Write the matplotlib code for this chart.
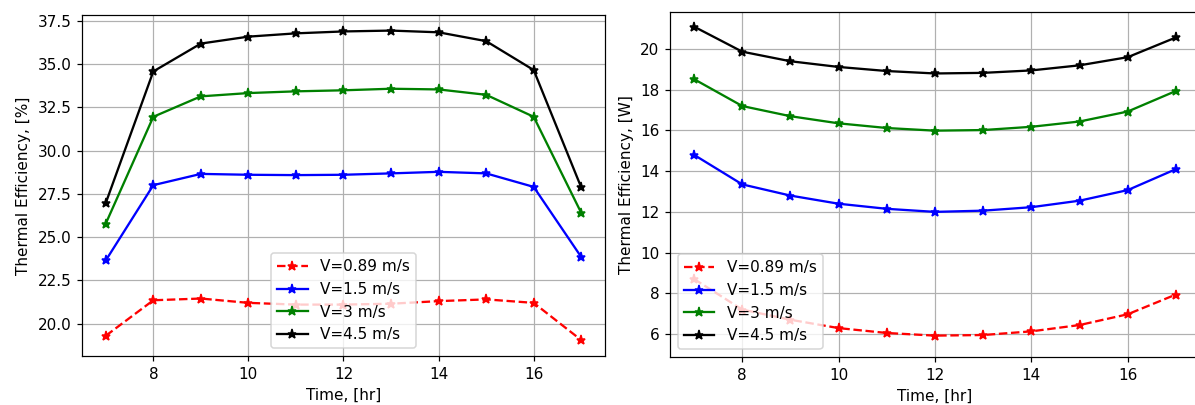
import matplotlib

matplotlib.use("Agg")
import matplotlib.pyplot as plt

# === Data ===
hours = [7, 8, 9, 10, 11, 12, 13, 14, 15, 16, 17]
labels = ["V=0.89 m/s", "V=1.5 m/s", "V=3 m/s", "V=4.5 m/s"]

# left panel: thermal efficiency [%]
eff_089 = [19.3, 21.35, 21.45, 21.2, 21.1, 21.1, 21.15, 21.3, 21.4, 21.2, 19.05]
eff_15 = [23.65, 28.0, 28.65, 28.6, 28.58, 28.6, 28.68, 28.77, 28.68, 27.9, 23.85]
eff_3 = [25.78, 31.95, 33.13, 33.32, 33.42, 33.48, 33.57, 33.53, 33.22, 31.95, 26.4]
eff_45 = [26.97, 34.57, 36.18, 36.58, 36.77, 36.88, 36.93, 36.83, 36.32, 34.65, 27.87]

# right panel: [W]
w_089 = [8.7, 7.2, 6.7, 6.29, 6.05, 5.92, 5.95, 6.13, 6.44, 6.97, 7.94]
w_15 = [14.8, 13.35, 12.8, 12.4, 12.15, 12.0, 12.06, 12.23, 12.55, 13.07, 14.1]
w_3 = [18.52, 17.2, 16.7, 16.35, 16.12, 15.99, 16.02, 16.18, 16.44, 16.93, 17.94]
w_45 = [21.1, 19.87, 19.4, 19.12, 18.92, 18.8, 18.83, 18.95, 19.2, 19.6, 20.57]

DPI = 110
fig = plt.figure(figsize=(1195 / DPI, 405 / DPI), dpi=DPI)

ax1 = fig.add_axes([82 / 1195, 49 / 405, 523 / 1195, 341 / 405])
ax2 = fig.add_axes([670 / 1195, 48 / 405, 530 / 1195, 345 / 405])


def draw(ax, series, loc):
    styles = [("r", "--"), ("b", "-"), ("g", "-"), ("k", "-")]
    for (c, ls), ys, lab in zip(styles, series, labels):
        ax.plot(hours, ys, color=c, linestyle=ls, marker="*", label=lab)
    ax.set_xlabel("Time, [hr]")
    ax.set_xlim(6.5, 17.5)
    ax.grid(True)
    ax.legend(loc=loc)


draw(ax1, [eff_089, eff_15, eff_3, eff_45], "lower center")
ax1.set_ylabel("Thermal Efficiency, [%]")
ax1.set_ylim(18.13, 37.83)

draw(ax2, [w_089, w_15, w_3, w_45], "lower left")
ax2.set_ylabel("Thermal Efficiency, [W]")
ax2.set_ylim(4.87, 21.82)
ax2.set_yticks([6, 8, 10, 12, 14, 16, 18, 20])

fig.savefig("out.png", dpi=DPI)
